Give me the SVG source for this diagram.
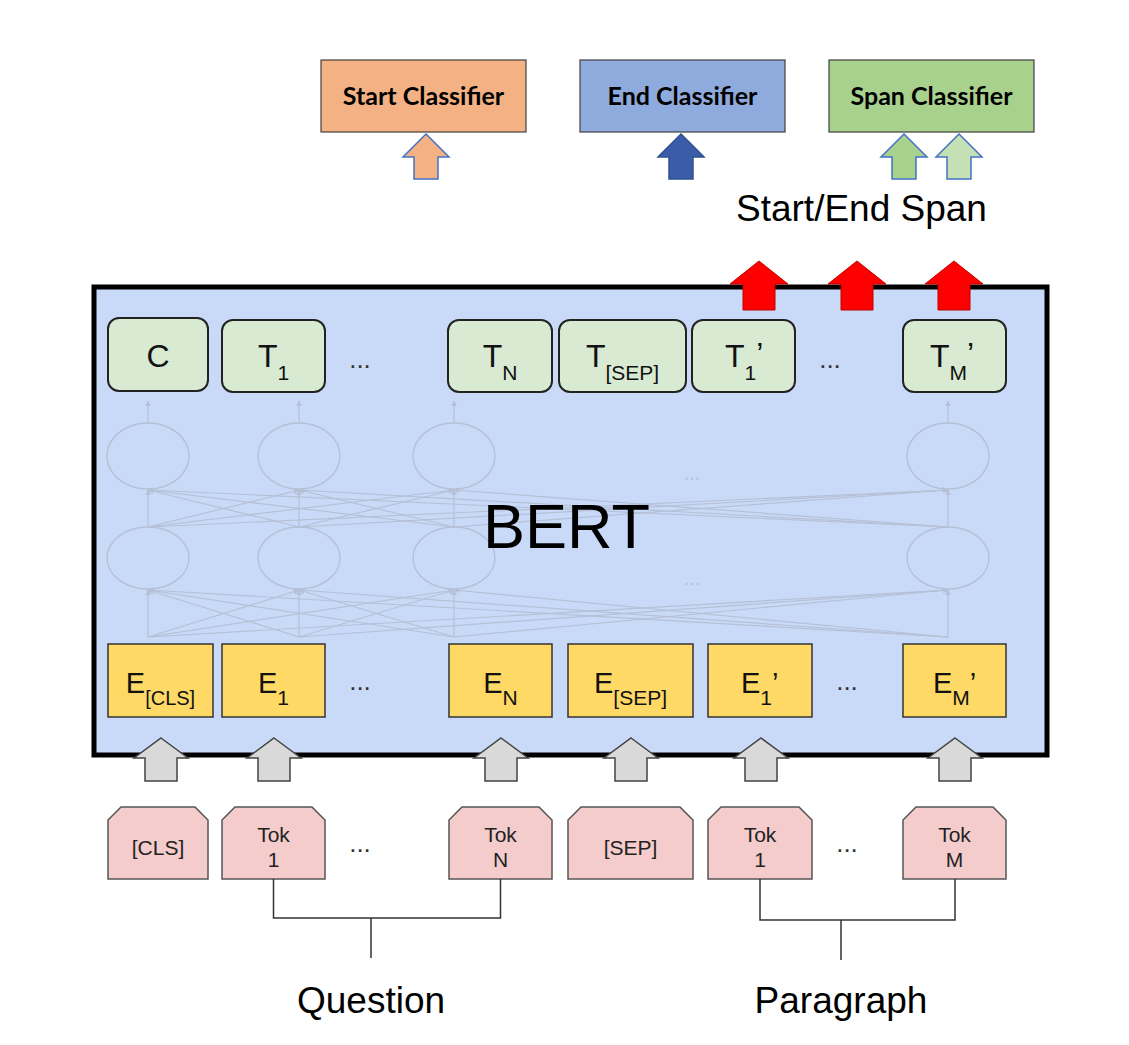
<svg xmlns="http://www.w3.org/2000/svg" width="1129" height="1045" viewBox="0 0 1129 1045">
<style>
  .cls-box { stroke: #404040; stroke-width: 1.2; }
  .cls-txt { font-family: Lato, "Liberation Sans", sans-serif; font-weight: bold; font-size: 25px; fill: #000; text-anchor: middle; }
  .lbl { font-family: "Liberation Sans", Arial, sans-serif; fill: #000; }
  .tbox { fill: #d9ead3; stroke: #222; stroke-width: 2; }
  .ebox { fill: #ffd966; stroke: #333; stroke-width: 1.5; }
  .tok { fill: #f4cccc; stroke: #555; stroke-width: 1.5; }
  .ttxt { font-family: "Liberation Sans", Arial, sans-serif; font-size: 32px; fill: #111; }
  .etxt { font-family: "Liberation Sans", Arial, sans-serif; font-size: 29px; fill: #111; }
  .tktxt { font-family: "Liberation Sans", Arial, sans-serif; font-size: 21px; fill: #222; text-anchor: middle; }
  .dots { font-family: "Liberation Sans", Arial, sans-serif; font-size: 26px; fill: #333; text-anchor: middle; }
  .net { fill: none; stroke: #b5c0d6; stroke-width: 1.4; }
  .netl { stroke: #b5c0d6; stroke-width: 1.2; fill: none; marker-end: url(#nh); }
  .red { fill: #ff0000; stroke: #c00000; stroke-width: 1; }
  .gray { fill: #d9d9d9; stroke: #434343; stroke-width: 1.5; }
  .bracket { fill: none; stroke: #333; stroke-width: 1.5; }
</style>
<defs>
  <marker id="nh" viewBox="0 0 10 10" refX="9" refY="5" markerWidth="5" markerHeight="5" orient="auto">
    <path d="M0,0 L10,5 L0,10 Z" fill="#b5c0d6"/>
  </marker>
  <path id="aRed" d="M0,0 L29,23 L16,23 L16,49 L-16,49 L-16,23 L-29,23 Z"/>
  <path id="aGray" d="M0,0 L27,20 L16,20 L16,43 L-16,43 L-16,20 L-27,20 Z"/>
  <path id="aSmall" d="M0,0 L23,23 L12,23 L12,45 L-12,45 L-12,23 L-23,23 Z"/>
</defs>
<rect width="1129" height="1045" fill="#ffffff"/>

<!-- Classifiers -->
<g id="start-classifier">
  <rect class="cls-box" x="321" y="60" width="205" height="72" fill="#f4b183"/>
  <text class="cls-txt" x="423.5" y="105">Start Classifier</text>
</g>
<g id="end-classifier">
  <rect class="cls-box" x="580" y="60" width="205" height="72" fill="#8faadc"/>
  <text class="cls-txt" x="682.5" y="105">End Classifier</text>
</g>
<g id="span-classifier">
  <rect class="cls-box" x="829" y="60" width="205" height="72" fill="#a9d18e"/>
  <text class="cls-txt" x="931.5" y="105">Span Classifier</text>
</g>
<text id="start-end-span" class="lbl" x="736" y="221" font-size="37">Start/End Span</text>

<!-- BERT frame -->
<g id="bert">
  <rect x="94" y="287" width="953" height="468" fill="#c9daf8" stroke="#000" stroke-width="5"/>
  <g id="network">
    <ellipse class="net" cx="148" cy="456" rx="41" ry="33"/>
    <ellipse class="net" cx="299" cy="456" rx="41" ry="33"/>
    <ellipse class="net" cx="454" cy="456" rx="41" ry="33"/>
    <ellipse class="net" cx="948" cy="456" rx="41" ry="33"/>
    <ellipse class="net" cx="148" cy="558" rx="41" ry="31"/>
    <ellipse class="net" cx="299" cy="558" rx="41" ry="31"/>
    <ellipse class="net" cx="454" cy="558" rx="41" ry="31"/>
    <ellipse class="net" cx="948" cy="558" rx="41" ry="31"/>
    <path class="netl" d="M148,423 L148,401"/>
    <path class="netl" d="M299,423 L299,401"/>
    <path class="netl" d="M454,423 L454,401"/>
    <path class="netl" d="M948,423 L948,401"/>
    <path class="netl" d="M148,527 L148,490"/>
    <path class="netl" d="M148,527 L299,490"/>
    <path class="netl" d="M148,527 L454,490"/>
    <path class="netl" d="M148,527 L948,490"/>
    <path class="netl" d="M299,527 L148,490"/>
    <path class="netl" d="M299,527 L299,490"/>
    <path class="netl" d="M299,527 L454,490"/>
    <path class="netl" d="M299,527 L948,490"/>
    <path class="netl" d="M454,527 L148,490"/>
    <path class="netl" d="M454,527 L299,490"/>
    <path class="netl" d="M454,527 L454,490"/>
    <path class="netl" d="M454,527 L948,490"/>
    <path class="netl" d="M948,527 L148,490"/>
    <path class="netl" d="M948,527 L299,490"/>
    <path class="netl" d="M948,527 L454,490"/>
    <path class="netl" d="M948,527 L948,490"/>
    <path class="netl" d="M148,637 L148,590"/>
    <path class="netl" d="M148,637 L299,590"/>
    <path class="netl" d="M148,637 L454,590"/>
    <path class="netl" d="M148,637 L948,590"/>
    <path class="netl" d="M299,637 L148,590"/>
    <path class="netl" d="M299,637 L299,590"/>
    <path class="netl" d="M299,637 L454,590"/>
    <path class="netl" d="M299,637 L948,590"/>
    <path class="netl" d="M454,637 L148,590"/>
    <path class="netl" d="M454,637 L299,590"/>
    <path class="netl" d="M454,637 L454,590"/>
    <path class="netl" d="M454,637 L948,590"/>
    <path class="netl" d="M948,637 L148,590"/>
    <path class="netl" d="M948,637 L299,590"/>
    <path class="netl" d="M948,637 L454,590"/>
    <path class="netl" d="M948,637 L948,590"/>
    <text x="692" y="480" font-family="Liberation Sans, sans-serif" font-size="20" fill="#b5c0d6" text-anchor="middle">...</text>
    <text x="692" y="585" font-family="Liberation Sans, sans-serif" font-size="20" fill="#b5c0d6" text-anchor="middle">...</text>
  </g>
  <text class="lbl" x="483" y="548" font-size="63">BERT</text>
</g>

<!-- T row -->
<g id="t-c"><rect class="tbox" x="108" y="318" width="100" height="73" rx="11"/><text class="ttxt" x="158" y="367" text-anchor="middle">C</text></g>
<g id="t-1"><rect class="tbox" x="222" y="320" width="103" height="72" rx="11"/><text class="ttxt" x="273.5" y="367" text-anchor="middle">T<tspan font-size="21" dy="13">1</tspan></text></g>
<text class="dots" x="360" y="368">...</text>
<g id="t-n"><rect class="tbox" x="448" y="320" width="104" height="72" rx="11"/><text class="ttxt" x="500" y="367" text-anchor="middle">T<tspan font-size="21" dy="13">N</tspan></text></g>
<g id="t-sep"><rect class="tbox" x="559" y="320" width="127" height="72" rx="11"/><text class="ttxt" x="622.5" y="367" text-anchor="middle">T<tspan font-size="21" dy="13">[SEP]</tspan></text></g>
<g id="t-1p"><rect class="tbox" x="692" y="320" width="103" height="72" rx="11"/><text class="ttxt" x="725" y="367">T<tspan font-size="21" dy="13">1</tspan><tspan dx="0" dy="-15">’</tspan></text></g>
<text class="dots" x="830" y="368">...</text>
<g id="t-mp"><rect class="tbox" x="903" y="320" width="103" height="72" rx="11"/><text class="ttxt" x="930" y="367">T<tspan font-size="21" dy="13">M</tspan><tspan dx="0" dy="-15">’</tspan></text></g>

<!-- E row -->
<g id="e-cls"><rect class="ebox" x="108" y="644" width="105" height="73"/><text class="etxt" x="160.5" y="693" text-anchor="middle">E<tspan font-size="20" dy="12">[CLS]</tspan></text></g>
<g id="e-1"><rect class="ebox" x="222" y="644" width="103" height="73"/><text class="etxt" x="273.5" y="693" text-anchor="middle">E<tspan font-size="21" dy="12">1</tspan></text></g>
<text class="dots" x="360" y="690">...</text>
<g id="e-n"><rect class="ebox" x="449" y="644" width="103" height="73"/><text class="etxt" x="500.5" y="693" text-anchor="middle">E<tspan font-size="21" dy="12">N</tspan></text></g>
<g id="e-sep"><rect class="ebox" x="568" y="644" width="125" height="73"/><text class="etxt" x="630.5" y="693" text-anchor="middle">E<tspan font-size="21" dy="12">[SEP]</tspan></text></g>
<g id="e-1p"><rect class="ebox" x="708" y="644" width="104" height="73"/><text class="etxt" x="741" y="693">E<tspan font-size="21" dy="12">1</tspan><tspan dx="0" dy="-12">’</tspan></text></g>
<text class="dots" x="847" y="690">...</text>
<g id="e-mp"><rect class="ebox" x="903" y="644" width="103" height="73"/><text class="etxt" x="933" y="693">E<tspan font-size="21" dy="12">M</tspan><tspan dx="0" dy="-12">’</tspan></text></g>

<!-- Token row -->
<g id="tok-cls"><path class="tok" d="M108,879 L108,820 L121,807 L195,807 L208,820 L208,879 Z"/><text class="tktxt" x="158" y="855">[CLS]</text></g>
<g id="tok-1"><path class="tok" d="M222,879 L222,820 L235,807 L312,807 L325,820 L325,879 Z"/><text class="tktxt" x="273.5" y="842">Tok</text><text class="tktxt" x="273.5" y="867">1</text></g>
<text class="dots" x="360" y="852">...</text>
<g id="tok-n"><path class="tok" d="M449,879 L449,820 L462,807 L539,807 L552,820 L552,879 Z"/><text class="tktxt" x="500.5" y="842">Tok</text><text class="tktxt" x="500.5" y="867">N</text></g>
<g id="tok-sep"><path class="tok" d="M568,879 L568,820 L581,807 L680,807 L693,820 L693,879 Z"/><text class="tktxt" x="630.5" y="855">[SEP]</text></g>
<g id="tok-1p"><path class="tok" d="M708,879 L708,820 L721,807 L799,807 L812,820 L812,879 Z"/><text class="tktxt" x="760" y="842">Tok</text><text class="tktxt" x="760" y="867">1</text></g>
<text class="dots" x="847" y="852">...</text>
<g id="tok-m"><path class="tok" d="M903,879 L903,820 L916,807 L993,807 L1006,820 L1006,879 Z"/><text class="tktxt" x="954.5" y="842">Tok</text><text class="tktxt" x="954.5" y="867">M</text></g>

<text id="question" class="lbl" x="371" y="1013" font-size="37" text-anchor="middle">Question</text>
<text id="paragraph" class="lbl" x="841" y="1013" font-size="37" text-anchor="middle">Paragraph</text>

<!-- Connectors -->
<g id="connectors">
  <use href="#aSmall" x="426" y="134" fill="#f4b183" stroke="#4472c4" stroke-width="1.5"/>
  <use href="#aSmall" x="681" y="134" fill="#3a5ca9" stroke="#2f528f" stroke-width="1.5"/>
  <use href="#aSmall" x="904" y="134" fill="#a9d18e" stroke="#4472c4" stroke-width="1.5"/>
  <use href="#aSmall" x="959" y="134" fill="#c5e0b4" stroke="#4472c4" stroke-width="1.5"/>
  <use href="#aRed" class="red" x="759" y="261"/>
  <use href="#aRed" class="red" x="857" y="261"/>
  <use href="#aRed" class="red" x="954" y="261"/>
  <use href="#aGray" class="gray" x="161" y="738"/>
  <use href="#aGray" class="gray" x="274" y="738"/>
  <use href="#aGray" class="gray" x="501" y="738"/>
  <use href="#aGray" class="gray" x="631" y="738"/>
  <use href="#aGray" class="gray" x="761" y="738"/>
  <use href="#aGray" class="gray" x="955" y="738"/>
  <path class="bracket" d="M273.5,879 L273.5,918 L500.5,918 L500.5,879 M371,918 L371,958"/>
  <path class="bracket" d="M760,879 L760,920 L955,920 L955,879 M841,920 L841,960"/>
</g>
</svg>
